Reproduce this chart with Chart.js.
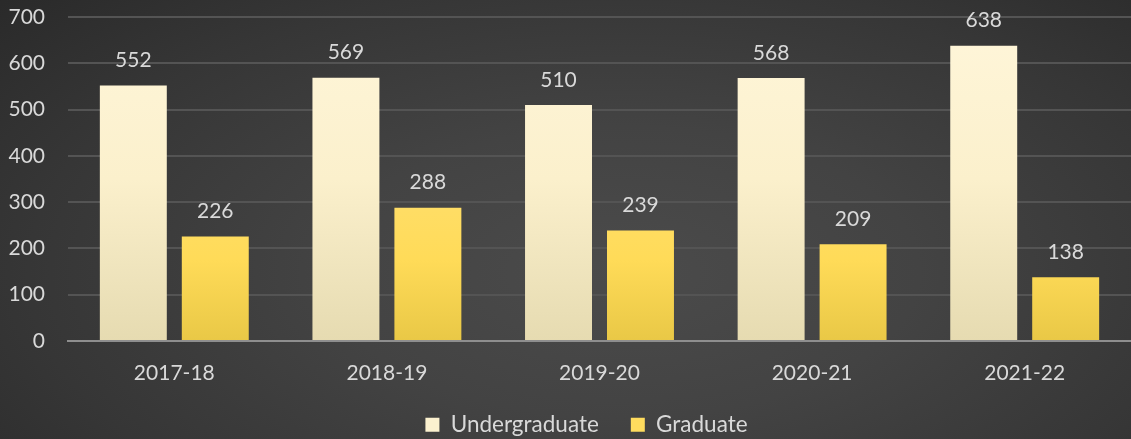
<!DOCTYPE html>
<html><head><meta charset="utf-8">
<script src="https://cdn.jsdelivr.net/npm/chart.js@4"></script>
<style>
html,body{margin:0;padding:0;}
body{width:1131px;height:439px;overflow:hidden;background:radial-gradient(ellipse 75% 95% at 55% 62%,#4b4b4b 0%,#434343 35%,#363636 70%,#292929 100%);}
#wrap{position:relative;width:1131px;height:439px;}
</style></head><body>
<div id="wrap"><canvas id="c" width="1131" height="439"></canvas></div>
<script>
const categories = ["2017-18","2018-19","2019-20","2020-21","2021-22"];
const undergraduate = [552,569,510,568,638];
const graduate = [226,288,239,209,138];
const yTicks = [0,100,200,300,400,500,600,700];
const FONT = 'Lato, "Open Sans", sans-serif';

function grad(ctx, stops){
  const ch = ctx.chart, a = ch.chartArea;
  if(!a) return stops[0][1];
  const g = ch.ctx.createLinearGradient(0, a.top, 0, a.bottom);
  stops.forEach(s=>g.addColorStop(s[0], s[1]));
  return g;
}
const ugStops = [[0,'#fff6da'],[0.5,'#fbf0cc'],[1,'#e6dbb1']];
const gStops = [[0,'#ffe07f'],[0.45,'#ffdf70'],[0.75,'#ffdb58'],[1,'#e9c846']];

const labelPlugin = {
  id:'vals',
  afterLayout(chart){
    if(chart.legend){ chart.legend.left += 20; chart.legend.right += 20; }
  },
  afterDatasetsDraw(chart){
    const c = chart.ctx;
    c.save();
    c.font = '21px ' + FONT;
    c.fillStyle = '#d9d9d9';
    c.textAlign = 'center';
    c.textBaseline = 'middle';
    chart.data.datasets.forEach((ds,i)=>{
      chart.getDatasetMeta(i).data.forEach((el,j)=>{
        c.fillText(String(ds.data[j]), el.x, el.y - 25);
      });
    });
    c.restore();
  }
};

new Chart(document.getElementById('c'), {
  type:'bar',
  data:{
    labels: categories,
    datasets:[
      {label:'Undergraduate', data: undergraduate, backgroundColor: ctx=>grad(ctx, ugStops)},
      {label:'Graduate', data: graduate, backgroundColor: ctx=>grad(ctx, gStops)}
    ]
  },
  options:{
    responsive:false,
    animation:false,
    devicePixelRatio:1,
    categoryPercentage:0.771,
    barPercentage:0.817,
    layout:{padding:{top:17,left:0,right:-2,bottom:-7}},
    scales:{
      x:{
        afterFit(s){ s.height = 40.5; s.paddingLeft = 0; s.paddingRight = 0; },
        grid:{display:false, drawTicks:false},
        border:{display:true,color:'#8e8e8e',width:2},
        ticks:{color:'#d9d9d9',font:{size:21,family:FONT},padding:20}
      },
      y:{
        min:0,max:700,
        afterFit(s){ s.width = 68; s.paddingTop = 0; s.paddingBottom = 0; },
        afterBuildTicks(s){ s.ticks = yTicks.map(v=>({value:v})); },
        grid:{color:'#545454',lineWidth:2,drawTicks:false},
        border:{display:false},
        ticks:{color:'#d9d9d9',font:{size:21,family:FONT},padding:23}
      }
    },
    plugins:{
      legend:{
        position:'bottom',
        labels:{color:'#d9d9d9',font:{size:22.5,family:FONT},boxWidth:14,boxHeight:14,padding:32,
          generateLabels(chart){
            return chart.data.datasets.map((ds,i)=>({text:ds.label,fillStyle:i===0?'#fbf1cf':'#ffdc5e',strokeStyle:'transparent',lineWidth:0,fontColor:'#d9d9d9',datasetIndex:i,hidden:false}));
          }
        }
      },
      tooltip:{enabled:false}
    }
  },
  plugins:[labelPlugin]
});
</script>
</body></html>
